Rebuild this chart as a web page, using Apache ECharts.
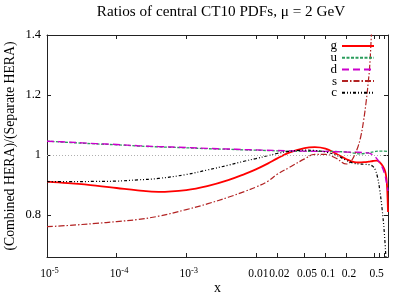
<!DOCTYPE html>
<html>
<head>
<meta charset="utf-8">
<script src="https://cdn.jsdelivr.net/npm/echarts@6/dist/echarts.min.js"></script>
<style>html,body{margin:0;padding:0;background:#fff}#c{width:407px;height:297px}</style>
</head>
<body>
<div id="c"></div>
<script>
// ---- data ----
const titleText = 'Ratios of central CT10 PDFs, \u03bc = 2 GeV';
const xName = 'x';
const yName = '(Combined HERA)/(Separate HERA)';
const xTickLabels = [1e-5, 1e-4, 1e-3, 0.01, 0.02, 0.05, 0.1, 0.2, 0.5];
const xMinorTicks = [0.6, 0.7];
const yTickLabels = [0.8, 1, 1.2, 1.4];
const refLine = [1];

const xG = [1e-5, 2e-5, 5e-5, 1e-4, 2e-4, 4e-4, 1e-3, 2e-3, 4e-3, 7e-3, 0.01, 0.015, 0.02, 0.03, 0.05, 0.07, 0.1, 0.14, 0.2, 0.26, 0.3, 0.36, 0.42, 0.48, 0.54, 0.6, 0.67, 0.72, 0.75, 0.77, 0.79];
const gVals = [0.911, 0.906, 0.898, 0.890, 0.882, 0.877, 0.883, 0.896, 0.916, 0.937, 0.952, 0.972, 0.988, 1.008, 1.023, 1.026, 1.021, 1.005, 0.986, 0.976, 0.975, 0.976, 0.978, 0.980, 0.981, 0.976, 0.962, 0.945, 0.922, 0.885, 0.81];

const xU = [1e-5, 2e-5, 5e-5, 1e-4, 2e-4, 4e-4, 1e-3, 2e-3, 4e-3, 7e-3, 0.01, 0.02, 0.05, 0.1, 0.2, 0.26, 0.3, 0.36, 0.42, 0.5, 0.6, 0.7, 0.79];
const uVals = [1.046, 1.042, 1.037, 1.034, 1.030, 1.027, 1.024, 1.021, 1.019, 1.017, 1.016, 1.014, 1.012, 1.012, 1.010, 1.006, 1.004, 1.005, 1.008, 1.011, 1.013, 1.013, 1.011];

const xD = [1e-5, 2e-5, 5e-5, 1e-4, 2e-4, 4e-4, 1e-3, 2e-3, 4e-3, 7e-3, 0.01, 0.02, 0.05, 0.1, 0.2, 0.3, 0.4, 0.45, 0.51, 0.57, 0.63, 0.7, 0.75, 0.79];
const dVals = [1.046, 1.043, 1.038, 1.035, 1.031, 1.028, 1.025, 1.022, 1.020, 1.018, 1.017, 1.015, 1.013, 1.012, 1.010, 1.009, 1.007, 1.004, 0.995, 0.982, 0.967, 0.940, 0.910, 0.880];

const xS = [1e-5, 2e-5, 5e-5, 1e-4, 2e-4, 4e-4, 1e-3, 2e-3, 4e-3, 7e-3, 0.01, 0.015, 0.02, 0.03, 0.05, 0.07, 0.1, 0.14, 0.2, 0.23, 0.262, 0.29, 0.32, 0.35, 0.386, 0.41, 0.431, 0.456, 0.48];
const sVals = [0.761, 0.765, 0.772, 0.778, 0.785, 0.796, 0.818, 0.837, 0.859, 0.879, 0.893, 0.913, 0.935, 0.958, 0.987, 1.002, 1.002, 0.990, 0.970, 0.978, 1.000, 1.025, 1.060, 1.110, 1.183, 1.240, 1.294, 1.400, 1.500];

const xC = [1e-5, 2e-5, 5e-5, 1e-4, 2e-4, 4e-4, 1e-3, 2e-3, 4e-3, 7e-3, 0.01, 0.015, 0.02, 0.03, 0.05, 0.07, 0.1, 0.14, 0.2, 0.26, 0.3, 0.36, 0.42, 0.48, 0.52, 0.56, 0.6, 0.65, 0.7, 0.74];
const cVals = [0.911, 0.911, 0.912, 0.913, 0.917, 0.922, 0.935, 0.950, 0.966, 0.980, 0.988, 0.998, 1.005, 1.012, 1.016, 1.015, 1.010, 1.000, 0.982, 0.972, 0.970, 0.969, 0.968, 0.962, 0.950, 0.925, 0.885, 0.820, 0.740, 0.650];

const pairs = (xs, ys) => xs.map((x, i) => [x, ys[i]]);

const FONT = 'Liberation Serif';
const X_MIN = 1e-5, X_MAX = 0.79, Y_MIN = 0.66, Y_MAX = 1.4;

function xFmt(v) {
  if (v < 0.005) {
    const e = Math.round(Math.log10(v));
    return '{n|10}{s|' + e + '}';
  }
  return '{n|' + String(+v.toPrecision(3)) + '}';
}
const xRich = {
  n: { fontFamily: FONT, fontSize: 11.5, lineHeight: 14, verticalAlign: 'bottom', color: '#000', padding: [0, 0, 0, 5] },
  s: { fontFamily: FONT, fontSize: 8.5, lineHeight: 10, verticalAlign: 'top', color: '#000' }
};

const axisLine = { show: true, lineStyle: { color: '#222', width: 1 } };
const tickStyle = { lineStyle: { color: '#222', width: 1 } };

function lineSeries(name, data, color, width, dash, extra) {
  return Object.assign({
    name: name, type: 'line', data: data, showSymbol: false, symbol: 'none',
    smooth: 0.4, clip: true,
    lineStyle: { color: color, width: width, type: dash },
    itemStyle: { color: color, opacity: 0 }
  }, extra || {});
}

const chart = echarts.init(document.getElementById('c'), null, { renderer: 'canvas' });
chart.setOption({
  animation: false,
  backgroundColor: '#fff',
  title: {
    text: titleText, left: 221, top: 5, padding: 0, textAlign: 'center',
    textStyle: { fontFamily: FONT, fontSize: 15.2, fontWeight: 'normal', color: '#000' }
  },
  legend: {
    orient: 'vertical', right: 32, top: 39.5, align: 'right', padding: 0,
    itemWidth: 32, itemHeight: 11, itemGap: -1.3,
    itemStyle: { opacity: 0 },
    textStyle: { fontFamily: FONT, fontSize: 13, color: '#000', lineHeight: 11 },
    data: ['g', 'u', 'd', 's', 'c']
  },
  grid: { left: 47, top: 35, width: 341, height: 222, containLabel: false, outerBoundsMode: 'none' },
  xAxis: [{
    type: 'log', logBase: 10, min: X_MIN, max: X_MAX, position: 'bottom',
    name: xName, nameLocation: 'middle', nameGap: 24, nameMoveOverlap: false,
    nameTextStyle: { fontFamily: FONT, fontSize: 14, color: '#000' },
    axisLine: axisLine,
    axisTick: Object.assign({ show: true, inside: true, length: 4, customValues: xTickLabels.concat(xMinorTicks) }, tickStyle),
    minorTick: { show: false },
    axisLabel: { show: true, margin: 9, customValues: xTickLabels, formatter: xFmt, rich: xRich, hideOverlap: false },
    splitLine: { show: false }
  }, {
    type: 'log', logBase: 10, min: X_MIN, max: X_MAX, position: 'top',
    axisLine: axisLine,
    axisTick: Object.assign({ show: true, inside: true, length: 4, customValues: xTickLabels.concat(xMinorTicks) }, tickStyle),
    axisLabel: { show: false },
    splitLine: { show: false }
  }],
  yAxis: [{
    type: 'value', min: Y_MIN, max: Y_MAX, position: 'left',
    name: yName, nameLocation: 'middle', nameGap: 30, nameRotate: 90, nameMoveOverlap: false,
    nameTextStyle: { fontFamily: FONT, fontSize: 13.8, color: '#000' },
    axisLine: axisLine,
    axisTick: Object.assign({ show: true, inside: true, length: 4, customValues: yTickLabels }, tickStyle),
    axisLabel: { show: true, margin: 6, customValues: yTickLabels, formatter: v => String(v),
      fontFamily: FONT, fontSize: 12.5, color: '#000' },
    splitLine: { show: false }
  }, {
    type: 'value', min: Y_MIN, max: Y_MAX, position: 'right',
    axisLine: axisLine,
    axisTick: Object.assign({ show: true, inside: true, length: 4, customValues: yTickLabels }, tickStyle),
    axisLabel: { show: false },
    splitLine: { show: false }
  }],
  series: [
    lineSeries('g', pairs(xG, gVals), '#ff0000', 1.8, 'solid', {
      markLine: {
        silent: true, symbol: 'none', label: { show: false },
        lineStyle: { color: '#b0b0b0', width: 1, type: [1, 2] },
        data: refLine.map(v => ({ yAxis: v }))
      }
    }),
    lineSeries('u', pairs(xU, uVals), '#2a9d5c', 1.3, [3, 1.5]),
    lineSeries('d', pairs(xD, dVals), '#cc00cc', 1.4, [7, 4]),
    lineSeries('s', pairs(xS, sVals), '#b22222', 1.2, [6, 2, 1.5, 2]),
    lineSeries('c', pairs(xC, cVals), '#000000', 1.2, [3, 2, 1, 2, 1, 2])
  ]
});
</script>
</body>
</html>
